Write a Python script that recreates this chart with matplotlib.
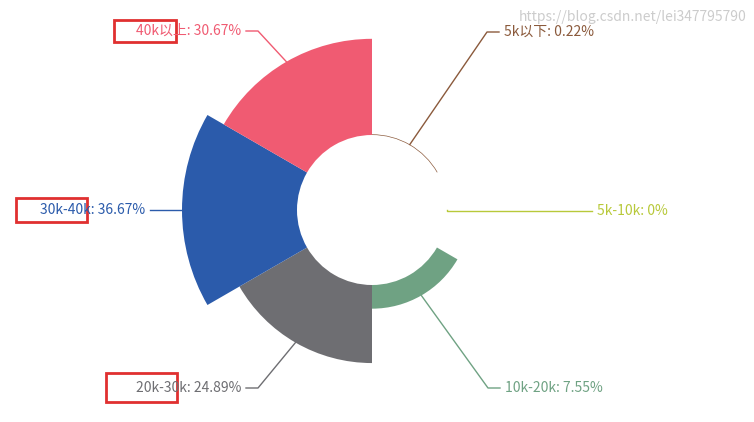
import numpy as np
import matplotlib.pyplot as plt
from matplotlib.patches import Wedge, Rectangle

plt.rcParams['font.family'] = ['Noto Sans CJK SC', 'DejaVu Sans']

labels = ['5k以下', '5k-10k', '10k-20k', '20k-30k', '30k-40k', '40k以上']
values = [0.22, 0, 7.55, 24.89, 36.67, 30.67]
colors = ['#8b5a3c', '#b8c93a', '#6fa283', '#6e6e72', '#2b5bab', '#f05b72']
# leader line knee and end (pixel coords), text side
knees = [(487, 32), (592, 211), (488, 388), (258, 388), (150, 210), (258, 31)]
sides = [1, 1, 1, -1, -1, -1]

W, H = 754, 422
cx, cy = 372, 210
r_in, r_out = 75, 190

fig = plt.figure(figsize=(W / 100, H / 100), dpi=100)
ax = fig.add_axes([0, 0, 1, 1])
ax.set_xlim(0, W)
ax.set_ylim(0, H)
ax.set_aspect('equal')
ax.axis('off')

vmax = max(values)
n = len(values)
step = 360 / n
for i, (lab, v, c) in enumerate(zip(labels, values, colors)):
    r = r_in + (r_out - r_in) * v / vmax
    a0 = 90 - step * (i + 1)
    a1 = 90 - step * i
    if v > 0:
        ax.add_patch(Wedge((cx, H - cy), r, a0, a1, width=r - r_in, color=c, lw=0))
    mid = np.deg2rad((a0 + a1) / 2)
    sx, sy = cx + r * np.cos(mid), H - cy + r * np.sin(mid)
    kx, ky = knees[i]
    ky = H - ky
    s = sides[i]
    if i in (1, 4):
        ex = kx
        kx = sx
    else:
        ex = kx + 12 * s
    ax.plot([sx, kx, ex], [sy, ky, ky], color=c, lw=1)
    ax.text(ex + 5 * s, ky, f'{lab}: {v:g}%', color=c, fontsize=10,
            ha='left' if s > 0 else 'right', va='center')

# highlight boxes
for x0, y0, x1, y1 in [(114, 20, 176, 42), (16, 198, 87, 222), (106, 373, 177, 402)]:
    ax.add_patch(Rectangle((x0, H - y1), x1 - x0, y1 - y0, fill=False,
                           edgecolor='#e03030', lw=2))

ax.text(746, 405, 'https://blog.csdn.net/lei347795790', color='#cccccc',
        fontsize=10, ha='right', va='center')

fig.savefig('out.png', dpi=100)
